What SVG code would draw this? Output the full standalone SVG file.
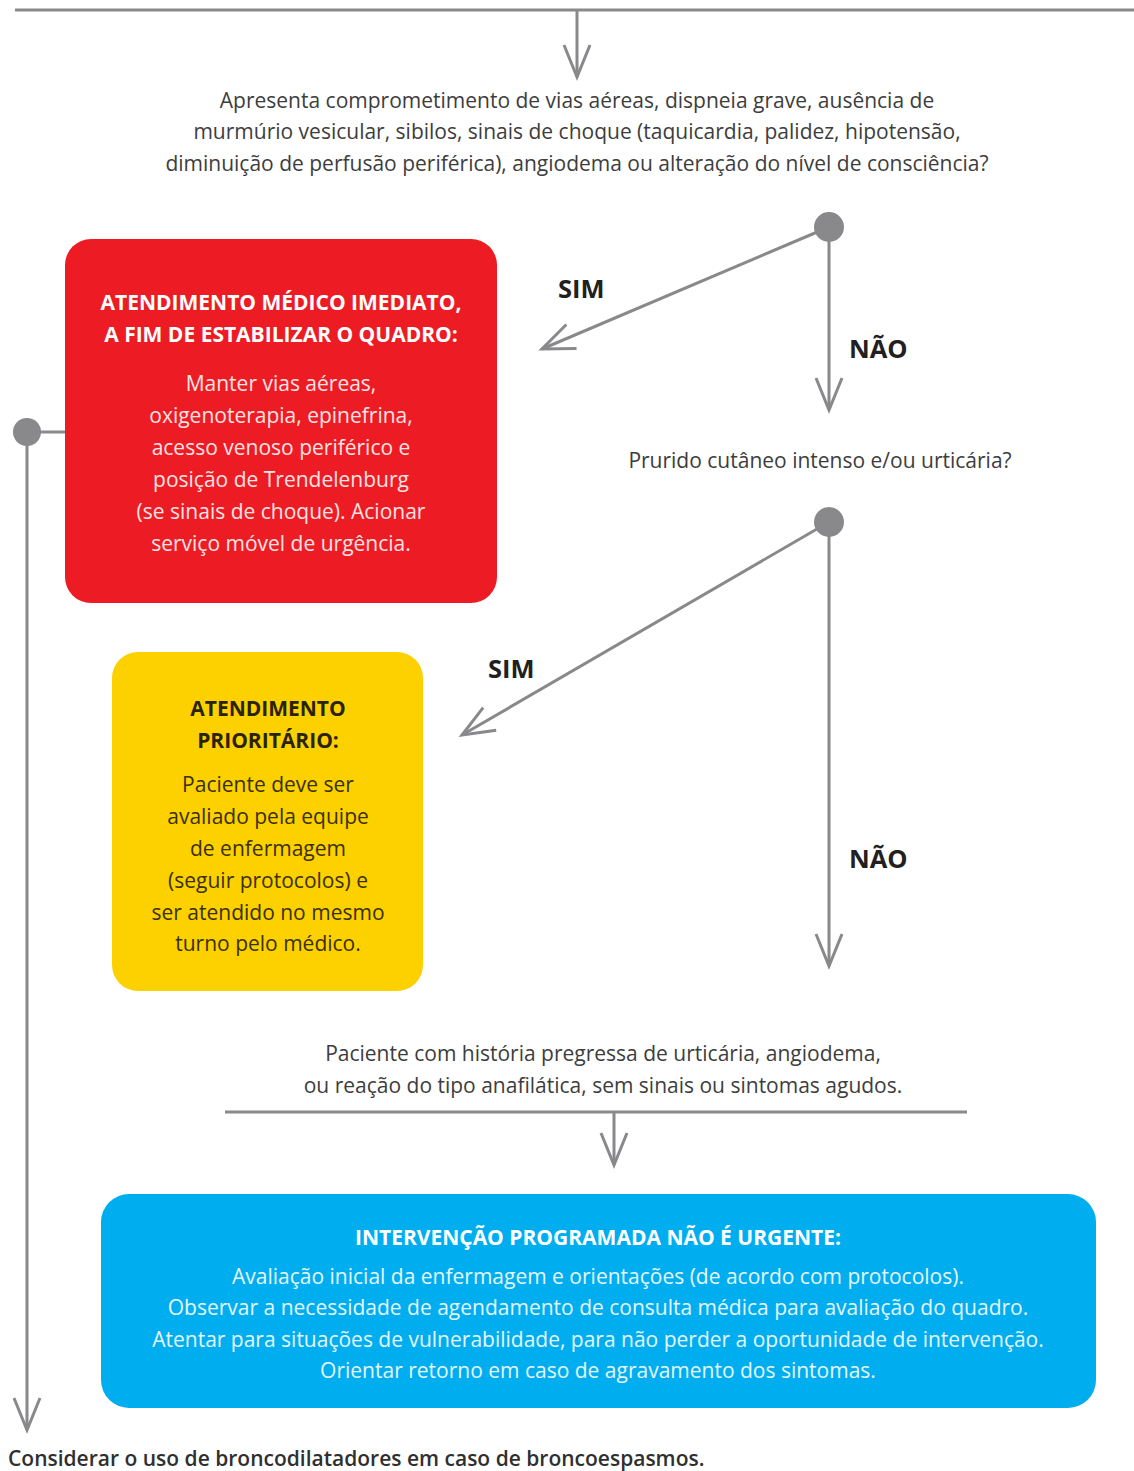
<svg xmlns="http://www.w3.org/2000/svg" width="1134" height="1471" viewBox="0 0 1134 1471">
  <style>
    .wire { stroke: #89898c; stroke-width: 3; fill: none; }
    .arrow { stroke: #89898c; stroke-width: 3; fill: none; marker-end: url(#vhead); }
    .dot { fill: #89898c; }
    .q { font-family: "Open Sans", "Liberation Sans", sans-serif; font-size: 21px; fill: #3d3d3d; text-anchor: middle; }
    .lbl { font-family: "Open Sans", "Liberation Sans", sans-serif; font-size: 25.5px; font-weight: 700; fill: #231f20; }
    .ttl { font-family: "Open Sans", "Liberation Sans", sans-serif; font-size: 21px; font-weight: 700; text-anchor: middle; }
    .body { font-family: "Open Sans", "Liberation Sans", sans-serif; font-size: 21px; text-anchor: middle; }
    .foot { font-family: "Open Sans", "Liberation Sans", sans-serif; font-size: 21px; font-weight: 600; fill: #2f2f2f; }
  </style>
  <defs>
    <marker id="vhead" markerUnits="userSpaceOnUse" viewBox="-34 -16 38 32" refX="0" refY="0" markerWidth="38" markerHeight="32" orient="auto">
      <path d="M-32,-13 L0,0 L-32,13" fill="none" stroke="#89898c" stroke-width="3" stroke-linejoin="miter"/>
    </marker>
  </defs>

  <rect width="1134" height="1471" fill="#ffffff"/>

  <!-- connectors -->
  <g id="connectors">
    <line class="wire" x1="15" y1="10" x2="1134" y2="10"/>
    <line class="arrow" x1="577" y1="10" x2="577" y2="77"/>

    <line class="arrow" x1="829" y1="227" x2="542" y2="349"/>
    <line class="arrow" x1="829" y1="227" x2="829" y2="410"/>

    <line class="arrow" x1="829" y1="522" x2="462" y2="735"/>
    <line class="arrow" x1="829" y1="522" x2="829" y2="966"/>

    <line class="wire" x1="225" y1="1112" x2="967" y2="1112"/>
    <line class="arrow" x1="614" y1="1112" x2="614" y2="1165"/>

    <line class="wire" x1="27" y1="432" x2="66" y2="432"/>
    <line class="arrow" x1="27" y1="432" x2="27" y2="1430"/>

    <circle class="dot" cx="829" cy="227" r="15"/>
    <circle class="dot" cx="829" cy="522" r="15"/>
    <circle class="dot" cx="27" cy="432" r="14"/>

    <text class="lbl" x="558" y="298">SIM</text>
    <text class="lbl" x="849" y="358">NÃO</text>
    <text class="lbl" x="488" y="678">SIM</text>
    <text class="lbl" x="849" y="868">NÃO</text>
  </g>

  <!-- first question -->
  <g id="q-airway">
    <text class="q" x="577" y="108">Apresenta comprometimento de vias aéreas, dispneia grave, ausência de</text>
    <text class="q" x="577" y="139">murmúrio vesicular, sibilos, sinais de choque (taquicardia, palidez, hipotensão,</text>
    <text class="q" x="577" y="171">diminuição de perfusão periférica), angiodema ou alteração do nível de consciência?</text>
  </g>

  <!-- immediate care -->
  <g id="box-immediate">
    <rect x="65" y="239" width="432" height="364" rx="26" fill="#ed1c24"/>
    <text class="ttl" x="281" y="310" fill="#ffffff">ATENDIMENTO MÉDICO IMEDIATO,</text>
    <text class="ttl" x="281" y="342" fill="#ffffff">A FIM DE ESTABILIZAR O QUADRO:</text>
    <g class="body" fill="#fde3e3">
      <text x="281" y="391">Manter vias aéreas,</text>
      <text x="281" y="423">oxigenoterapia, epinefrina,</text>
      <text x="281" y="455">acesso venoso periférico e</text>
      <text x="281" y="487">posição de Trendelenburg</text>
      <text x="281" y="519">(se sinais de choque). Acionar</text>
      <text x="281" y="551">serviço móvel de urgência.</text>
    </g>
  </g>

  <!-- second question -->
  <g id="q-itch">
    <text class="q" x="820" y="468">Prurido cutâneo intenso e/ou urticária?</text>
  </g>

  <!-- priority care -->
  <g id="box-priority">
    <rect x="112" y="652" width="311" height="339" rx="26" fill="#fdd100"/>
    <text class="ttl" x="268" y="716" fill="#2b2300">ATENDIMENTO</text>
    <text class="ttl" x="268" y="748" fill="#2b2300">PRIORITÁRIO:</text>
    <g class="body" fill="#3a3000">
      <text x="268" y="792">Paciente deve ser</text>
      <text x="268" y="824">avaliado pela equipe</text>
      <text x="268" y="856">de enfermagem</text>
      <text x="268" y="888">(seguir protocolos) e</text>
      <text x="268" y="920">ser atendido no mesmo</text>
      <text x="268" y="951">turno pelo médico.</text>
    </g>
  </g>

  <!-- history statement -->
  <g id="q-history">
    <text class="q" x="603" y="1061">Paciente com história pregressa de urticária, angiodema,</text>
    <text class="q" x="603" y="1093">ou reação do tipo anafilática, sem sinais ou sintomas agudos.</text>
  </g>

  <!-- scheduled intervention -->
  <g id="box-scheduled">
    <rect x="101" y="1194" width="995" height="214" rx="28" fill="#00aeef"/>
    <text class="ttl" x="598" y="1245" fill="#ffffff">INTERVENÇÃO PROGRAMADA NÃO É URGENTE:</text>
    <g class="body" fill="#e4f6fd">
      <text x="598" y="1284">Avaliação inicial da enfermagem e orientações (de acordo com protocolos).</text>
      <text x="598" y="1315">Observar a necessidade de agendamento de consulta médica para avaliação do quadro.</text>
      <text x="598" y="1347">Atentar para situações de vulnerabilidade, para não perder a oportunidade de intervenção.</text>
      <text x="598" y="1378">Orientar retorno em caso de agravamento dos sintomas.</text>
    </g>
  </g>

  <!-- bronchodilator note -->
  <g id="note-bronch">
    <text class="foot" x="8" y="1466">Considerar o uso de broncodilatadores em caso de broncoespasmos.</text>
  </g>
</svg>
